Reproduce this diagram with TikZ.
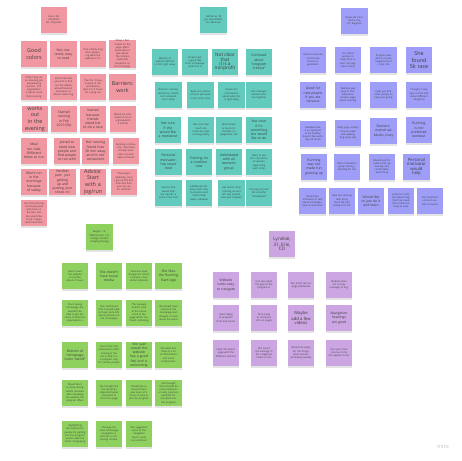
\documentclass[tikz,border=0pt]{standalone}
\usepackage{fontspec}
\setmainfont{Open Sans}
\usepackage{xcolor}
\usetikzlibrary{shadows}

\definecolor{pinknote}{RGB}{241,151,161}
\definecolor{tealnote}{RGB}{98,203,189}
\definecolor{bluenote}{RGB}{158,158,248}
\definecolor{greennote}{RGB}{143,209,95}
\definecolor{purplenote}{RGB}{203,166,226}
\definecolor{notetext}{RGB}{60,60,60}

\tikzset{
  note/.style={rectangle, minimum width=0.78cm, minimum height=0.78cm, inner sep=0.5pt,
    text width=0.63cm, align=center, text=notetext,
    drop shadow={shadow xshift=0pt, shadow yshift=-1.3pt, opacity=0.22}},
  sm/.style={font=\fontsize{2.1}{2.7}\selectfont},
  md/.style={font=\fontsize{2.9}{3.6}\selectfont},
  bg/.style={font=\fontsize{4.6}{5.8}\selectfont},
  pk/.style={note, fill=pinknote},
  tl/.style={note, fill=tealnote},
  bl/.style={note, fill=bluenote},
  gr/.style={note, fill=greennote},
  pu/.style={note, fill=purplenote}
}

\begin{document}
\begin{tikzpicture}[x=0.03cm,y=-0.03cm]
\useasboundingbox (0,0) rectangle (462,461);

% Pink cluster
\node[pk,sm] (pinkhead) at (54,20) {Karol, 58, Charlotte, NC, Physician};
\node[pk,bg] (pink11) at (34,54) {Good colors};
\node[pk,md] (pink12) at (63.5,54) {Not cluttered, easy to read};
\node[pk,sm] (pink13) at (93,54) {Took a fairly long time answering what the website is for};
\node[pk,sm] (pink14) at (122.5,54) {When I first clicked on the page, didn't know what it was about. The mission statement should be on the first page};
\node[pk,sm] (pink21) at (34,87) {Thinks they do an amazing job empowering women. The organization is about more than running};
\node[pk,sm] (pink22) at (63.5,87) {Didn't like that you had to find out the details about financial assistance or about mentoring};
\node[pk,sm] (pink23) at (93,87) {Tries for 3 days a week to run (sometimes less), for 3 hours for a long run};
\node[pk,bg] (pink24) at (122.5,87) {Barriers: work};
\node[pk,bg] (pink31) at (35,119) {works out in the evening};
\node[pk,md] (pink32) at (64,119) {Started running in Feb 2019 (5k)};
\node[pk,md] (pink33) at (93,119) {Started because friends asked her to do a race};
\node[pk,sm] (pink34) at (123,119) {Would be motivated to run in a group/with a mentor};
\node[pk,md] (pink41) at (34,151) {Ideal run club: Different times to run};
\node[pk,md] (pink42) at (67,151) {Joined to meet new people and find people to run with};
\node[pk,md] (pink43) at (95.5,151) {Her running friend lives 30 min away and it's not convenient};
\node[pk,sm] (pink44) at (126,151) {Running community: important to keep each other accountable as friends};
\node[pk,md] (pink51) at (34,182) {Won't run in the mornings because of safety};
\node[pk,md] (pink52) at (62.5,182) {Hardest part: just getting up and putting your shoes on};
\node[pk,bg] (pink53) at (93,182) {Advice: Start with a jog/run};
\node[pk,sm] (pink54) at (124,182) {``Running is addicting, once I got up the first mile and then you can run for another''};
\node[pk,sm] (pink61) at (34,213) {Her first running community was with Girls on the Run and she would like to do it again with Team Red};

% Teal cluster
\node[tl,sm] (tealhead) at (213.5,20) {Katherine, 38 y/o, Broomfield, CO, Musician};
\node[tl,sm] (teal11) at (165,62) {Mission of website difficult to find right away};
\node[tl,sm] (teal12) at (195,62) {Doesn't get a good idea from homepage what this is};
\node[tl,md] (teal13) at (225,62) {\fontsize{4.0}{5.0}\selectfont Not clear that it is a nonprofit};
\node[tl,md] (teal14) at (259,62) {Confused about ``program criteria''};
\node[tl,sm] (teal21) at (168.5,95) {Barriers: mental, emotional, health, not motivated, poor sleep};
\node[tl,sm] (teal22) at (200.5,95) {Been sick; works 6 hours per week most of the time};
\node[tl,sm] (teal23) at (231.5,95) {Needs the information about what this is right away};
\node[tl,sm] (teal24) at (259,95) {Into meetups; women who run together};
\node[tl,md] (teal31) at (168,130) {Not sure if she would like a motivator};
\node[tl,sm] (teal32) at (201,130) {Not sure how much she trusts her own running ability};
\node[tl,sm] (teal33) at (229,130) {Would have to feel comfortable, no judgement, fun};
\node[tl,md] (teal34) at (259,130) {Not clear if it's something she would like to do};
\node[tl,md] (teal41) at (168.5,162) {Personal motivator; has never tried};
\node[tl,md] (teal42) at (199,162) {Training for a triathlon now};
\node[tl,md] (teal43) at (229,162) {Intimidated with all women's group};
\node[tl,sm] (teal44) at (259,162) {Want to see lots of pictures of women supporting each other};
\node[tl,sm] (teal51) at (168.5,193) {Factors that would help her decide: a price / free trial};
\node[tl,sm] (teal52) at (199,193) {Additional info: how much time motivation and mentorship takes, schedule};
\node[tl,sm] (teal53) at (231.5,193) {Has had to drop running on and off; was injured, then just stopped};
\node[tl,sm] (teal54) at (259,193) {``running success'' felt stressful ``intimidated''};

% Blue cluster
\node[bl,sm] (bluehead) at (354.5,21) {Dana, 38, Commerce City, CO, Engineer};
\node[bl,sm] (blue11) at (313,60) {Likes the women community driven organization};
\node[bl,sm] (blue12) at (348,60) {It is about women to help them to start running; meet others};
\node[bl,sm] (blue13) at (383.5,60) {Program was able to locate neighborhood / local info};
\node[bl,bg] (blue14) at (419,60) {She found 5k race};
\node[bl,md] (blue21) at (313,95) {Good for new people if you are nervous};
\node[bl,sm] (blue22) at (348,95) {Website was easy to find: education, mission page about running};
\node[bl,sm] (blue23) at (383.5,95) {Help you find other people to keep you going};
\node[bl,sm] (blue24) at (419,95) {Thought it was easy to find info about different categories};
\node[bl,sm] (blue31) at (313,134) {Realizes how it is important to be healthy; doesn't like working out alone};
\node[bl,sm] (blue32) at (348,133) {Daily yoga, mainly 3 hours week and walking dog every day};
\node[bl,md] (blue33) at (383.5,131) {Barriers: menstrual blocks, busy};
\node[bl,md] (blue34) at (419,130) {Running is not preferred workout};
\node[bl,md] (blue41) at (314,167) {Running was not made fun growing up};
\node[bl,sm] (blue42) at (347,167) {More motivation group setting / meeting for fun};
\node[bl,sm] (blue43) at (382,167) {Would look for events that are low key and comfortable, welcoming};
\node[bl,md] (blue44) at (416.5,167) {\fontsize{3.6}{4.5}\selectfont Personal motivator would help};
\node[bl,sm] (blue51) at (312.5,201) {Would like motivator to talk about blockages, how to overcome};
\node[bl,sm] (blue52) at (342,201) {How can running help bring more life and vitality into life};
\node[bl,md] (blue53) at (371,201) {Would like to just do it and learn};
\node[bl,sm] (blue54) at (401,201) {Looks for activities where they feel they need their mind and body at ease};
\node[bl,sm] (blue55) at (430,201) {Can members connect outside of events};

% Green cluster
\node[gr,sm] (greenhead) at (99.5,237) {Megan, 19, Westminster, CO, College student studying Biology};
\node[gr,sm] (green11) at (75,276) {Hasn't used the website in months; About 2 hours};
\node[gr,md] (green12) at (109,276) {She doesn't have social media};
\node[gr,sm] (green13) at (139,276) {Searches used Google for school / Careers / Academic interests};
\node[gr,md] (green14) at (168.5,276) {She likes the Running Start logo};
\node[gr,sm] (green21) at (75,313) {From seeing homepage she wouldn't be able to get the sense of what the organization is};
\node[gr,sm] (green22) at (109,313) {She mentioned that it would help to have more info about pictures on the homepage};
\node[gr,sm] (green23) at (139,313) {The passage doesn't load at the entire scroll of the page which she found confusing};
\node[gr,sm] (green24) at (168.5,313) {She would have looked at the homepage and thought it more about the event};
\node[gr,md] (green31) at (75,355) {Bottom of homepage looks ``weird''};
\node[gr,sm] (green32) at (109,355) {One of the first impressions after looking at the site is that it is a program only for certain people};
\node[gr,md] (green33) at (139,355) {She said overall the website has a good feel and is welcoming};
\node[gr,sm] (green34) at (168.5,355) {She liked that there is a lot of information and some testimonials};
\node[gr,sm] (green41) at (75,393) {Would like it to show clearly what's involved after reviewing the website the program offers};
\node[gr,sm] (green42) at (109,393) {She thought the site would be organized better compared to the home page};
\node[gr,sm] (green43) at (139,393) {Would like to know if there was more of a focus on how to join the program};
\node[gr,sm] (green44) at (168.5,393) {She thought there should be more emphasis on why a person wouldn't be accepted into the program};
\node[gr,sm] (green51) at (75,434) {Highlighting the reasons for people for getting into the program would make the intent of applying};
\node[gr,sm] (green52) at (109,434) {The way the main homepage navigation is laid out is confusing/ unclear};
\node[gr,sm] (green53) at (139,434) {She suggested some of the navigation topics could be combined};

% Purple cluster
\node[pu,md] (purplehead) at (282,244) {\fontsize{3.9}{5.0}\selectfont Lyndsie, 31, Erie, CO};
\node[pu,md] (purple11) at (226,285) {Website looks easy to navigate};
\node[pu,sm] (purple12) at (264,285) {Not sure what the goal of the program is};
\node[pu,sm] (purple13) at (301,285) {Too much text on page (cluttered)};
\node[pu,sm] (purple14) at (339,285) {Website does not convey message of org.};
\node[pu,sm] (purple21) at (226,318) {Likes ``apply to program'' front and center};
\node[pu,sm] (purple22) at (264,318) {Find a way to condense info on pages};
\node[pu,md] (purple23) at (301,318) {\fontsize{3.6}{4.5}\selectfont Maybe add a few videos};
\node[pu,md] (purple24) at (339,318) {Navigation headings are good};
\node[pu,sm] (purple31) at (226,353) {Likes the `about' page with the different sections};
\node[pu,sm] (purple32) at (264,353) {Not sure if she belongs to the categories listed on site};
\node[pu,sm] (purple33) at (301,353) {Would not apply for the things other women (probably) qualify};
\node[pu,sm] (purple34) at (339,353) {Not sure if the criteria on the site applies to her};

% Board watermark
\node[font=\fontsize{4.5}{5}\selectfont, text=black!25] (miro) at (443,447) {miro};
\end{tikzpicture}
\end{document}
